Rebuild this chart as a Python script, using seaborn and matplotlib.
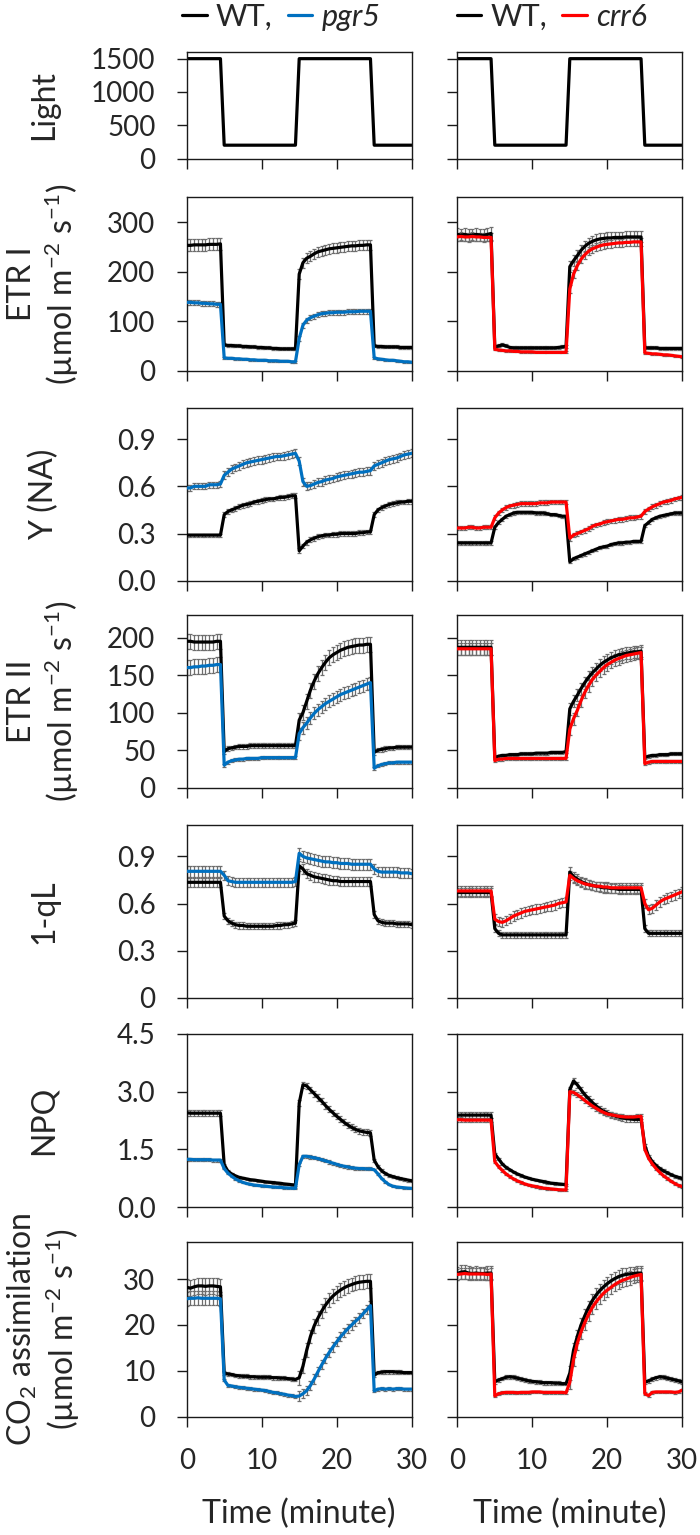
import matplotlib
matplotlib.use('Agg')
import matplotlib.pyplot as plt
import numpy as np
import seaborn as sns
from matplotlib.lines import Line2D

# time axis: one reading every 30 s, 0-30 min
time = np.arange(0, 30.5, 0.5)
phase_len = [10, 20, 20, 11]   # high / low / high / low light

light = [1500] * 10 + [200] * 20 + [1500] * 20 + [200] * 11

# ---- ETR I ----
etr1_wt_a = [253, 253, 254, 254, 254, 254, 255, 255, 255, 256,
             52, 51, 51, 50, 50, 49, 49, 48, 48, 47, 47, 46, 46, 45, 45, 44, 44, 44, 44, 44,
             195, 218, 227, 231, 236, 240, 242, 244, 246, 247, 248, 249, 250, 251, 252, 252, 253, 253, 254, 254,
             50, 49, 49, 48, 48, 48, 48, 47, 47, 47, 47]
etr1_pgr5 = [138, 138, 137, 137, 136, 136, 135, 135, 134, 134,
             26, 25, 25, 24, 24, 23, 23, 22, 22, 21, 21, 21, 20, 20, 20, 19, 19, 19, 18, 18,
             65, 92, 102, 107, 110, 113, 115, 116, 117, 117, 118, 118, 118, 119, 119, 119, 120, 120, 120, 120,
             26, 24, 23, 22, 21, 21, 20, 19, 18, 18, 17]
etr1_wt_b = [275, 274, 275, 273, 274, 275, 274, 273, 275, 277,
             48, 50, 52, 50, 47, 46, 46, 46, 46, 46, 46, 46, 46, 46, 46, 46, 46, 47, 48, 49,
             210, 222, 232, 243, 251, 257, 261, 264, 266, 267, 268, 268, 269, 269, 269, 270, 270, 270, 270, 270,
             46, 46, 46, 46, 45, 45, 45, 45, 45, 45, 45]
etr1_crr6 = [270, 271, 270, 270, 271, 270, 270, 269, 269, 269,
             43, 42, 41, 40, 40, 39, 39, 38, 38, 38, 38, 37, 37, 37, 37, 37, 37, 37, 37, 37,
             165, 195, 212, 225, 234, 241, 246, 249, 252, 254, 255, 256, 257, 258, 258, 259, 259, 260, 260, 260,
             36, 35, 34, 34, 33, 32, 32, 31, 30, 29, 28]

# ---- Y(NA) ----
yna_wt_a = [0.29, 0.29, 0.29, 0.29, 0.29, 0.29, 0.29, 0.29, 0.29, 0.29,
            0.42, 0.44, 0.45, 0.46, 0.47, 0.48, 0.485, 0.49, 0.50, 0.505, 0.51, 0.515, 0.52, 0.52, 0.525, 0.53, 0.53, 0.535, 0.54, 0.54,
            0.19, 0.22, 0.245, 0.26, 0.27, 0.28, 0.285, 0.29, 0.29, 0.295, 0.295, 0.30, 0.30, 0.30, 0.30, 0.30, 0.305, 0.305, 0.31, 0.31,
            0.42, 0.45, 0.465, 0.475, 0.485, 0.49, 0.495, 0.50, 0.50, 0.505, 0.505]
yna_pgr5 = [0.59, 0.59, 0.60, 0.60, 0.60, 0.60, 0.61, 0.61, 0.61, 0.615,
            0.67, 0.69, 0.71, 0.72, 0.73, 0.74, 0.75, 0.755, 0.76, 0.765, 0.77, 0.775, 0.78, 0.785, 0.79, 0.79, 0.795, 0.80, 0.805, 0.81,
            0.76, 0.63, 0.60, 0.605, 0.615, 0.625, 0.63, 0.64, 0.645, 0.65, 0.66, 0.665, 0.67, 0.675, 0.68, 0.685, 0.69, 0.69, 0.695, 0.70,
            0.73, 0.74, 0.75, 0.76, 0.77, 0.775, 0.78, 0.79, 0.80, 0.805, 0.81]
yna_wt_b = [0.24, 0.24, 0.24, 0.24, 0.24, 0.24, 0.24, 0.24, 0.24, 0.24,
            0.34, 0.37, 0.39, 0.41, 0.42, 0.43, 0.435, 0.435, 0.435, 0.435, 0.435, 0.43, 0.43, 0.43, 0.425, 0.42, 0.42, 0.415, 0.41, 0.41,
            0.12, 0.14, 0.15, 0.16, 0.17, 0.18, 0.19, 0.20, 0.21, 0.215, 0.22, 0.23, 0.235, 0.24, 0.24, 0.245, 0.245, 0.25, 0.25, 0.25,
            0.35, 0.37, 0.39, 0.40, 0.41, 0.415, 0.42, 0.425, 0.43, 0.43, 0.43]
yna_crr6 = [0.335, 0.335, 0.335, 0.34, 0.34, 0.335, 0.335, 0.34, 0.34, 0.34,
            0.40, 0.43, 0.45, 0.465, 0.475, 0.48, 0.485, 0.49, 0.49, 0.49, 0.49, 0.49, 0.495, 0.495, 0.495, 0.50, 0.50, 0.50, 0.50, 0.50,
            0.27, 0.29, 0.30, 0.31, 0.32, 0.33, 0.345, 0.355, 0.36, 0.37, 0.375, 0.38, 0.385, 0.39, 0.39, 0.395, 0.40, 0.40, 0.405, 0.41,
            0.44, 0.455, 0.47, 0.48, 0.49, 0.50, 0.505, 0.51, 0.52, 0.525, 0.53]

# ---- ETR II ----
etr2_wt_a = [195, 195, 194, 194, 194, 194, 194, 194, 195, 195,
             48, 52, 53, 54, 55, 55, 55, 56, 56, 56, 56, 56, 56, 56, 56, 56, 56, 56, 56, 56,
             90, 100, 115, 130, 142, 152, 160, 167, 173, 177, 180, 183, 185, 187, 188, 189, 190, 190, 191, 191,
             47, 50, 51, 52, 53, 53, 54, 54, 54, 54, 54]
etr2_pgr5 = [160, 160, 161, 161, 162, 162, 163, 163, 164, 164,
             30, 34, 36, 37, 38, 38, 39, 39, 39, 39, 40, 40, 40, 40, 40, 40, 40, 40, 40, 40,
             72, 80, 86, 93, 99, 104, 108, 112, 115, 118, 121, 124, 126, 128, 130, 132, 134, 136, 138, 140,
             26, 29, 31, 32, 33, 33, 34, 34, 34, 34, 34]
etr2_wt_b = [187, 187, 187, 187, 187, 187, 187, 187, 187, 187,
             40, 42, 43, 43, 44, 44, 44, 45, 45, 45, 45, 46, 46, 46, 46, 47, 47, 47, 47, 48,
             105, 115, 123, 132, 140, 147, 153, 158, 163, 167, 170, 173, 175, 177, 178, 179, 180, 181, 181, 182,
             40, 42, 43, 43, 44, 44, 44, 45, 45, 45, 45]
etr2_crr6 = [185, 185, 185, 185, 185, 185, 185, 185, 185, 185,
             36, 38, 38, 39, 39, 39, 39, 39, 39, 39, 39, 39, 39, 39, 39, 39, 39, 39, 39, 39,
             78, 92, 103, 116, 127, 136, 144, 150, 155, 160, 164, 167, 170, 172, 174, 176, 177, 178, 179, 180,
             32, 34, 35, 35, 35, 35, 35, 35, 35, 35, 35]

# ---- 1-qL ----
qL_wt_a = [0.735, 0.735, 0.735, 0.735, 0.735, 0.735, 0.735, 0.735, 0.735, 0.735,
           0.52, 0.49, 0.475, 0.465, 0.46, 0.46, 0.455, 0.455, 0.455, 0.455, 0.455, 0.455, 0.455, 0.455, 0.46, 0.46, 0.465, 0.465, 0.47, 0.475,
           0.84, 0.82, 0.79, 0.78, 0.77, 0.765, 0.76, 0.755, 0.75, 0.745, 0.745, 0.74, 0.74, 0.74, 0.74, 0.74, 0.74, 0.74, 0.74, 0.74,
           0.53, 0.49, 0.48, 0.475, 0.475, 0.475, 0.47, 0.47, 0.47, 0.47, 0.465]
qL_pgr5 = [0.805, 0.805, 0.805, 0.805, 0.805, 0.805, 0.805, 0.805, 0.805, 0.805,
           0.78, 0.745, 0.74, 0.735, 0.735, 0.735, 0.735, 0.735, 0.735, 0.735, 0.735, 0.735, 0.735, 0.735, 0.735, 0.735, 0.735, 0.735, 0.735, 0.74,
           0.92, 0.90, 0.89, 0.885, 0.88, 0.875, 0.87, 0.865, 0.865, 0.86, 0.86, 0.855, 0.855, 0.855, 0.85, 0.85, 0.85, 0.85, 0.85, 0.85,
           0.82, 0.805, 0.80, 0.80, 0.80, 0.80, 0.80, 0.795, 0.795, 0.795, 0.79]
qL_wt_b = [0.67, 0.67, 0.67, 0.67, 0.67, 0.67, 0.67, 0.67, 0.67, 0.67,
           0.44, 0.41, 0.40, 0.40, 0.40, 0.40, 0.40, 0.40, 0.40, 0.40, 0.40, 0.40, 0.40, 0.40, 0.40, 0.40, 0.40, 0.40, 0.40, 0.40,
           0.80, 0.77, 0.755, 0.74, 0.73, 0.72, 0.715, 0.71, 0.705, 0.70, 0.70, 0.695, 0.695, 0.69, 0.69, 0.69, 0.69, 0.69, 0.69, 0.69,
           0.44, 0.41, 0.41, 0.41, 0.41, 0.41, 0.41, 0.41, 0.41, 0.41, 0.41]
qL_crr6 = [0.68, 0.68, 0.68, 0.68, 0.68, 0.68, 0.68, 0.68, 0.68, 0.68,
           0.50, 0.485, 0.48, 0.49, 0.505, 0.52, 0.53, 0.54, 0.55, 0.555, 0.56, 0.565, 0.57, 0.575, 0.58, 0.585, 0.59, 0.60, 0.605, 0.61,
           0.78, 0.76, 0.745, 0.735, 0.725, 0.72, 0.715, 0.71, 0.71, 0.705, 0.705, 0.70, 0.70, 0.70, 0.70, 0.70, 0.70, 0.70, 0.70, 0.70,
           0.60, 0.56, 0.57, 0.59, 0.61, 0.625, 0.635, 0.645, 0.655, 0.665, 0.675]

# ---- NPQ ----
npq_wt_a = [2.45, 2.44, 2.44, 2.44, 2.44, 2.44, 2.44, 2.44, 2.44, 2.44,
            1.10, 0.93, 0.86, 0.81, 0.77, 0.75, 0.73, 0.71, 0.70, 0.685, 0.67, 0.655, 0.645, 0.635, 0.625, 0.615, 0.60, 0.59, 0.58, 0.57,
            2.70, 3.18, 3.15, 3.05, 2.95, 2.85, 2.75, 2.64, 2.54, 2.45, 2.36, 2.28, 2.20, 2.13, 2.07, 2.02, 1.98, 1.96, 1.94, 1.93,
            1.22, 1.05, 0.94, 0.87, 0.82, 0.79, 0.76, 0.74, 0.72, 0.70, 0.68]
npq_pgr5 = [1.24, 1.24, 1.23, 1.23, 1.23, 1.23, 1.23, 1.22, 1.22, 1.22,
            1.00, 0.88, 0.80, 0.73, 0.68, 0.64, 0.61, 0.59, 0.57, 0.56, 0.55, 0.54, 0.53, 0.52, 0.515, 0.51, 0.50, 0.495, 0.49, 0.485,
            1.10, 1.32, 1.32, 1.30, 1.28, 1.26, 1.23, 1.20, 1.17, 1.14, 1.11, 1.08, 1.06, 1.04, 1.02, 1.01, 1.00, 1.00, 0.99, 0.99,
            0.97, 0.86, 0.74, 0.65, 0.58, 0.54, 0.52, 0.51, 0.50, 0.49, 0.485]
npq_wt_b = [2.39, 2.39, 2.39, 2.39, 2.39, 2.39, 2.39, 2.39, 2.39, 2.39,
            1.38, 1.25, 1.12, 1.03, 0.97, 0.91, 0.86, 0.82, 0.78, 0.75, 0.72, 0.70, 0.68, 0.66, 0.64, 0.62, 0.61, 0.60, 0.59, 0.58,
            3.05, 3.28, 3.18, 3.05, 2.92, 2.82, 2.72, 2.63, 2.55, 2.49, 2.44, 2.40, 2.37, 2.34, 2.32, 2.30, 2.29, 2.28, 2.28, 2.28,
            1.60, 1.32, 1.18, 1.08, 1.00, 0.94, 0.89, 0.84, 0.80, 0.77, 0.74]
npq_crr6 = [2.27, 2.27, 2.26, 2.26, 2.26, 2.26, 2.26, 2.26, 2.26, 2.26,
            1.18, 1.05, 0.95, 0.86, 0.79, 0.73, 0.68, 0.64, 0.60, 0.57, 0.55, 0.53, 0.51, 0.49, 0.48, 0.47, 0.46, 0.45, 0.445, 0.44,
            3.00, 2.98, 2.92, 2.85, 2.77, 2.70, 2.63, 2.57, 2.51, 2.46, 2.42, 2.40, 2.38, 2.36, 2.35, 2.34, 2.34, 2.34, 2.35, 2.36,
            1.50, 1.27, 1.12, 1.00, 0.90, 0.81, 0.74, 0.67, 0.61, 0.56, 0.53]

# ---- CO2 assimilation ----
co2_wt_a = [28.2, 28.0, 28.3, 28.5, 28.5, 28.4, 28.5, 28.5, 28.4, 28.3,
            9.5, 9.3, 9.2, 9.0, 8.9, 8.8, 8.8, 8.7, 8.7, 8.6, 8.6, 8.6, 8.6, 8.5, 8.5, 8.4, 8.4, 8.3, 8.2, 8.1,
            8.5, 11.0, 14.5, 17.5, 19.8, 21.5, 23.0, 24.3, 25.4, 26.3, 27.0, 27.6, 28.1, 28.5, 28.8, 29.1, 29.3, 29.4, 29.5, 29.5,
            9.0, 9.6, 9.7, 9.8, 9.8, 9.8, 9.7, 9.7, 9.6, 9.6, 9.6]
co2_pgr5 = [25.7, 25.8, 25.8, 25.9, 25.8, 25.8, 25.8, 25.8, 25.8, 25.7,
            8.0, 6.8, 6.7, 6.5, 6.4, 6.3, 6.2, 6.1, 6.0, 5.9, 5.8, 5.7, 5.5, 5.3, 5.2, 5.0, 4.9, 4.7, 4.6, 4.4,
            4.5, 5.0, 5.7, 6.8, 8.2, 9.8, 11.3, 12.7, 14.0, 15.2, 16.3, 17.4, 18.3, 19.2, 20.0, 20.8, 21.5, 22.4, 23.3, 24.2,
            5.6, 6.0, 6.1, 6.0, 6.1, 6.0, 6.1, 6.1, 6.0, 6.0, 6.0]
co2_wt_b = [31.2, 31.5, 31.6, 31.3, 31.2, 31.3, 31.2, 31.2, 31.3, 31.3,
            7.6, 8.0, 8.3, 8.6, 8.7, 8.6, 8.4, 8.2, 8.0, 7.8, 7.7, 7.6, 7.5, 7.4, 7.4, 7.4, 7.3, 7.3, 7.2, 7.2,
            9.5, 14.5, 17.5, 20.0, 22.0, 23.8, 25.3, 26.5, 27.5, 28.3, 29.0, 29.6, 30.1, 30.5, 30.8, 31.0, 31.1, 31.2, 31.3, 31.3,
            7.5, 7.8, 8.2, 8.5, 8.7, 8.6, 8.4, 8.2, 8.0, 7.8, 7.6]
co2_crr6 = [31.0, 31.1, 31.2, 31.1, 31.1, 31.1, 31.1, 31.1, 31.0, 31.1,
            4.5, 5.0, 5.2, 5.3, 5.3, 5.3, 5.2, 5.3, 5.3, 5.3, 5.4, 5.4, 5.4, 5.3, 5.3, 5.3, 5.3, 5.3, 5.3, 5.2,
            7.5, 12.5, 16.0, 18.5, 20.5, 22.3, 23.8, 25.0, 26.0, 26.9, 27.6, 28.2, 28.8, 29.3, 29.7, 30.0, 30.3, 30.6, 30.8, 31.0,
            5.0, 4.6, 5.3, 5.4, 5.4, 5.4, 5.4, 5.4, 5.3, 5.4, 5.8]

# SE per light phase (high, low, high, low)
err_etr1 = {'wt_a': [12, 3, 10, 3], 'mut_a': [5, 2, 5, 2], 'wt_b': [13, 3, 11, 3], 'mut_b': [8, 2, 8, 2]}
err_yna = {'wt_a': [0.01, 0.015, 0.015, 0.015], 'mut_a': [0.02, 0.025, 0.025, 0.025],
           'wt_b': [0.01, 0.01, 0.01, 0.01], 'mut_b': [0.012, 0.015, 0.015, 0.015]}
err_etr2 = {'wt_a': [10, 3, 10, 3], 'mut_a': [10, 2, 8, 2], 'wt_b': [10, 2, 8, 2], 'mut_b': [8, 2, 8, 2]}
err_qL = {'wt_a': [0.03, 0.02, 0.03, 0.02], 'mut_a': [0.035, 0.03, 0.035, 0.03],
          'wt_b': [0.03, 0.02, 0.03, 0.02], 'mut_b': [0.03, 0.03, 0.03, 0.03]}
err_npq = {'wt_a': [0.08, 0.03, 0.08, 0.04], 'mut_a': [0.04, 0.02, 0.04, 0.02],
           'wt_b': [0.08, 0.03, 0.08, 0.04], 'mut_b': [0.06, 0.03, 0.06, 0.03]}
err_co2 = {'wt_a': [1.8, 0.4, 1.5, 0.4], 'mut_a': [1.5, 0.3, 1.0, 0.3],
           'wt_b': [1.5, 0.4, 1.5, 0.4], 'mut_b': [1.2, 0.3, 1.5, 0.3]}

BLUE = '#0070C0'
RED = '#FF0000'
UNIT = '(µmol m$^{-2}$ s$^{-1}$)'

rows = [
    # label, top px, bottom px, ylim, ticks, ticklabels, (wt_a, mut_a, wt_b, mut_b), errors
    ('Light', 52, 158.5, 1600, [0, 500, 1000, 1500], ['0', '500', '1000', '1500'], None, None),
    ('ETR I\n' + UNIT, 197.3, 370.7, 350, [0, 100, 200, 300], ['0', '100', '200', '300'],
     (etr1_wt_a, etr1_pgr5, etr1_wt_b, etr1_crr6), err_etr1),
    ('Y (NA)', 407.7, 580.7, 1.1, [0, 0.3, 0.6, 0.9], ['0.0', '0.3', '0.6', '0.9'],
     (yna_wt_a, yna_pgr5, yna_wt_b, yna_crr6), err_yna),
    ('ETR II\n' + UNIT, 615, 787.7, 230, [0, 50, 100, 150, 200], ['0', '50', '100', '150', '200'],
     (etr2_wt_a, etr2_pgr5, etr2_wt_b, etr2_crr6), err_etr2),
    ('1-qL', 825, 997.7, 1.1, [0, 0.3, 0.6, 0.9], ['0', '0.3', '0.6', '0.9'],
     (qL_wt_a, qL_pgr5, qL_wt_b, qL_crr6), err_qL),
    ('NPQ', 1034, 1207, 4.5, [0, 1.5, 3.0, 4.5], ['0.0', '1.5', '3.0', '4.5'],
     (npq_wt_a, npq_pgr5, npq_wt_b, npq_crr6), err_npq),
    ('CO$_2$ assimilation\n' + UNIT, 1242.3, 1416.7, 38, [0, 10, 20, 30], ['0', '10', '20', '30'],
     (co2_wt_a, co2_pgr5, co2_wt_b, co2_crr6), err_co2),
]

sns.set_style('ticks')
plt.rcParams['font.family'] = ['Lato', 'DejaVu Sans']
plt.rcParams['mathtext.fontset'] = 'custom'
plt.rcParams['mathtext.rm'] = 'Lato'
plt.rcParams['mathtext.it'] = 'Lato:italic'

W, H = 700, 1535
fig = plt.figure(figsize=(W / 100, H / 100), dpi=100)
col_left = [186.7, 457.3]
col_w = 225
mut_colors = [BLUE, RED]
mut_names = ['pgr5', 'crr6']
LW = 2.3

for r, (label, top, bot, ymax, yt, ytl, series, errs) in enumerate(rows):
    for c in range(2):
        ax = fig.add_axes([col_left[c] / W, 1 - bot / H, col_w / W, (bot - top) / H])
        if series is None:
            sns.lineplot(x=time, y=light, ax=ax, color='black', linewidth=LW)
        else:
            wt, mut = series[2 * c], series[2 * c + 1]
            key = 'ab'[c]
            for vals, ek in ((wt, 'wt_' + key), (mut, 'mut_' + key)):
                e = np.repeat(errs[ek], phase_len)
                ax.errorbar(time, vals, yerr=e, fmt='none', ecolor='#6e6e6e',
                            elinewidth=0.9, capsize=1.5, capthick=0.9, zorder=1)
            sns.lineplot(x=time, y=wt, ax=ax, color='black', linewidth=LW, zorder=3)
            sns.lineplot(x=time, y=mut, ax=ax, color=mut_colors[c], linewidth=LW, zorder=4)

        ax.set_xlim(0, 30)
        ax.set_ylim(0, ymax)
        ax.set_xticks([0, 10, 20, 30])
        ax.set_yticks(yt)
        for s in ax.spines.values():
            s.set_linewidth(1.0)
            s.set_color('#1a1a1a')
        ax.tick_params(axis='both', direction='out', length=7.5, width=1.0,
                       color='#1a1a1a', labelsize=20, pad=15)
        ax.set_xlabel('')
        ax.set_ylabel('')
        if c == 0:
            ax.set_yticklabels(ytl)
            ax.set_ylabel(label, fontsize=23, va='center', linespacing=1.15)
            ax.yaxis.set_label_coords(-0.634, 0.5)
        else:
            ax.set_yticklabels([])
        if r == len(rows) - 1:
            ax.set_xticklabels(['0', '10', '20', '30'])
            ax.set_xlabel('Time (minute)', fontsize=23)
            ax.xaxis.set_label_coords(0.5, -0.47)
        else:
            ax.set_xticklabels([])

        if r == 0:
            handles = [Line2D([], [], color='black', lw=LW),
                       Line2D([], [], color=mut_colors[c], lw=LW)]
            leg = ax.legend(handles, ['WT,', mut_names[c]], ncol=2, loc='center',
                            bbox_to_anchor=(0.42, 1.33), frameon=False, fontsize=22,
                            handlelength=0.8, handletextpad=0.3, columnspacing=0.5,
                            borderaxespad=0)
            leg.get_texts()[1].set_fontstyle('italic')

fig.savefig('out.png', dpi=100)
